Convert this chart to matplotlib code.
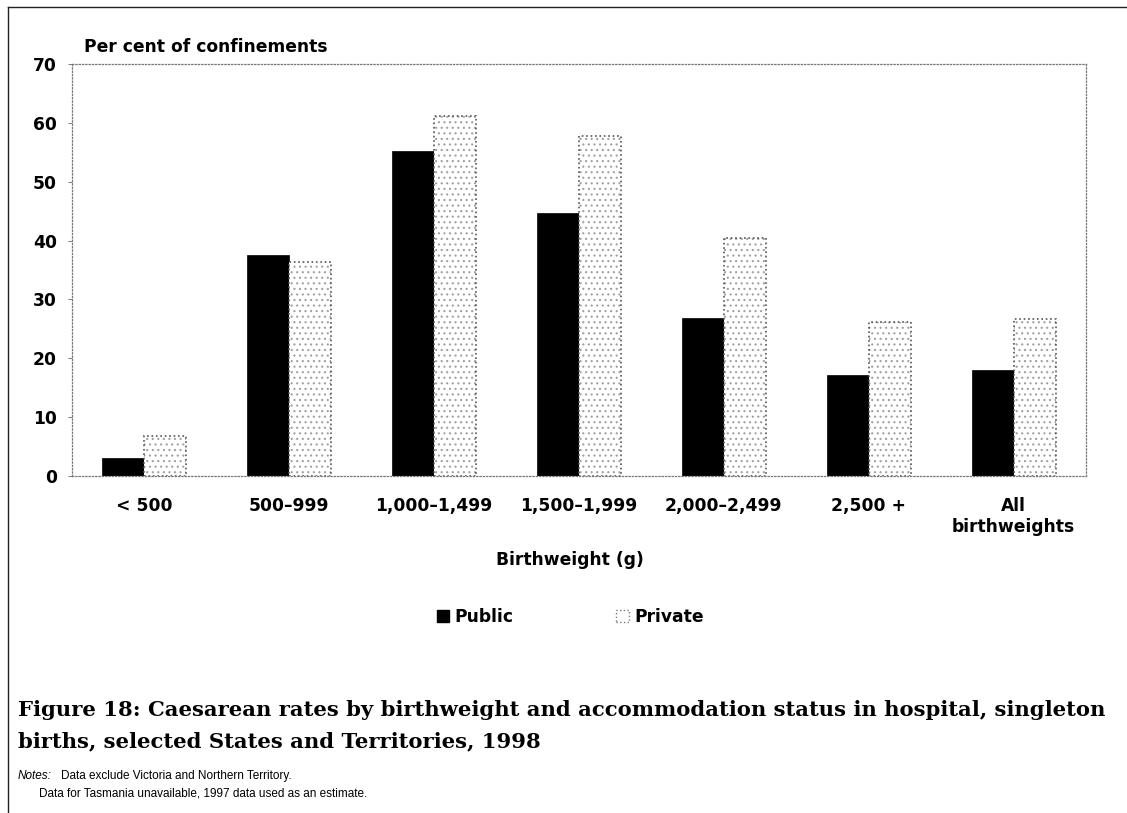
import matplotlib
matplotlib.use('Agg')
import numpy as np
import matplotlib.pyplot as plt
from matplotlib.patches import Patch
from matplotlib.lines import Line2D

categories = ['< 500', '500\u2013999', '1,000\u20131,499', '1,500\u20131,999',
              '2,000\u20132,499', '2,500 +', 'All\nbirthweights']
public = [3.1, 37.5, 55.2, 44.6, 26.9, 17.2, 18.0]
private = [6.8, 36.3, 61.1, 57.8, 40.4, 26.1, 26.7]
yticks = [0, 10, 20, 30, 40, 50, 60, 70]

W, H = 1127, 813
sans = ['DejaVu Sans']
notes_font = ['Liberation Sans', 'DejaVu Sans']
serif = ['DejaVu Serif']
fs = 12.3
plt.rcParams['font.family'] = sans
plt.rcParams['hatch.linewidth'] = 0.8

fig = plt.figure(figsize=(W / 100, H / 100), dpi=100)
ax = fig.add_axes([72 / W, 1 - 476 / H, (1086 - 72) / W, (476 - 64) / H])

x = np.arange(len(categories))
bw = 0.29
ax.bar(x - bw / 2, public, bw, color='black', edgecolor='black', linewidth=0.5)
ax.bar(x + bw / 2, private, bw, color='white', edgecolor='#a0a0a0',
       hatch='...', linewidth=0)
ax.bar(x + bw / 2, private, bw, fill=False, edgecolor='#555555',
       linestyle=':', linewidth=1.2)

ax.set_xlim(-0.5, len(categories) - 0.5)
ax.set_ylim(0, 70)
ax.set_yticks(yticks)
ax.set_xticks(x)
ax.set_xticklabels(categories, fontsize=fs, fontweight='bold', linespacing=1.2)
ax.tick_params(axis='x', length=0, pad=15)
ax.tick_params(axis='y', length=3, width=0.6, color='#666666', pad=8,
               labelsize=fs)
for lab in ax.get_yticklabels():
    lab.set_fontweight('bold')
for s in ax.spines.values():
    s.set_linestyle(':')
    s.set_color('#777777')
    s.set_linewidth(0.9)

fig.text(84 / W, 1 - 47 / H, 'Per cent of confinements', fontsize=fs,
         fontweight='bold', va='center', ha='left')
fig.text(570 / W, 1 - 560 / H, 'Birthweight (g)', fontsize=fs,
         fontweight='bold', va='center', ha='center')

handles = [Patch(facecolor='black', edgecolor='black'),
           Patch(facecolor='white', edgecolor='#777777', linestyle=':')]
fig.legend(handles, ['Public', 'Private'], loc='center',
           bbox_to_anchor=(570 / W, 1 - 617 / H), ncol=2, frameon=False,
           handlelength=0.75, handleheight=0.75, handletextpad=0.3,
           columnspacing=6.0, prop={'family': sans, 'weight': 'bold', 'size': fs})

title_fs = 15.2
fig.text(18 / W, 1 - 710 / H,
         'Figure 18: Caesarean rates by birthweight and accommodation status in hospital, singleton',
         family=serif, fontsize=title_fs, fontweight='bold', va='center', ha='left')
fig.text(18 / W, 1 - 741 / H, 'births, selected States and Territories, 1998',
         family=serif, fontsize=title_fs, fontweight='bold', va='center', ha='left')

fig.text(18 / W, 1 - 776 / H, 'Notes:', fontsize=8.5, style='italic',
         family=notes_font, va='center', ha='left')
fig.text(61 / W, 1 - 776 / H, 'Data exclude Victoria and Northern Territory.',
         fontsize=8.5, family=notes_font, va='center', ha='left')
fig.text(39 / W, 1 - 793 / H,
         'Data for Tasmania unavailable, 1997 data used as an estimate.',
         fontsize=8.5, family=notes_font, va='center', ha='left')

# page frame lines (top and left)
fig.add_artist(Line2D([8 / W, 1], [1 - 7 / H, 1 - 7 / H], color='#222222',
                      linewidth=1.0, transform=fig.transFigure))
fig.add_artist(Line2D([8 / W, 8 / W], [0, 1 - 7 / H], color='#222222',
                      linewidth=1.0, transform=fig.transFigure))

fig.savefig('out.png', dpi=100)
